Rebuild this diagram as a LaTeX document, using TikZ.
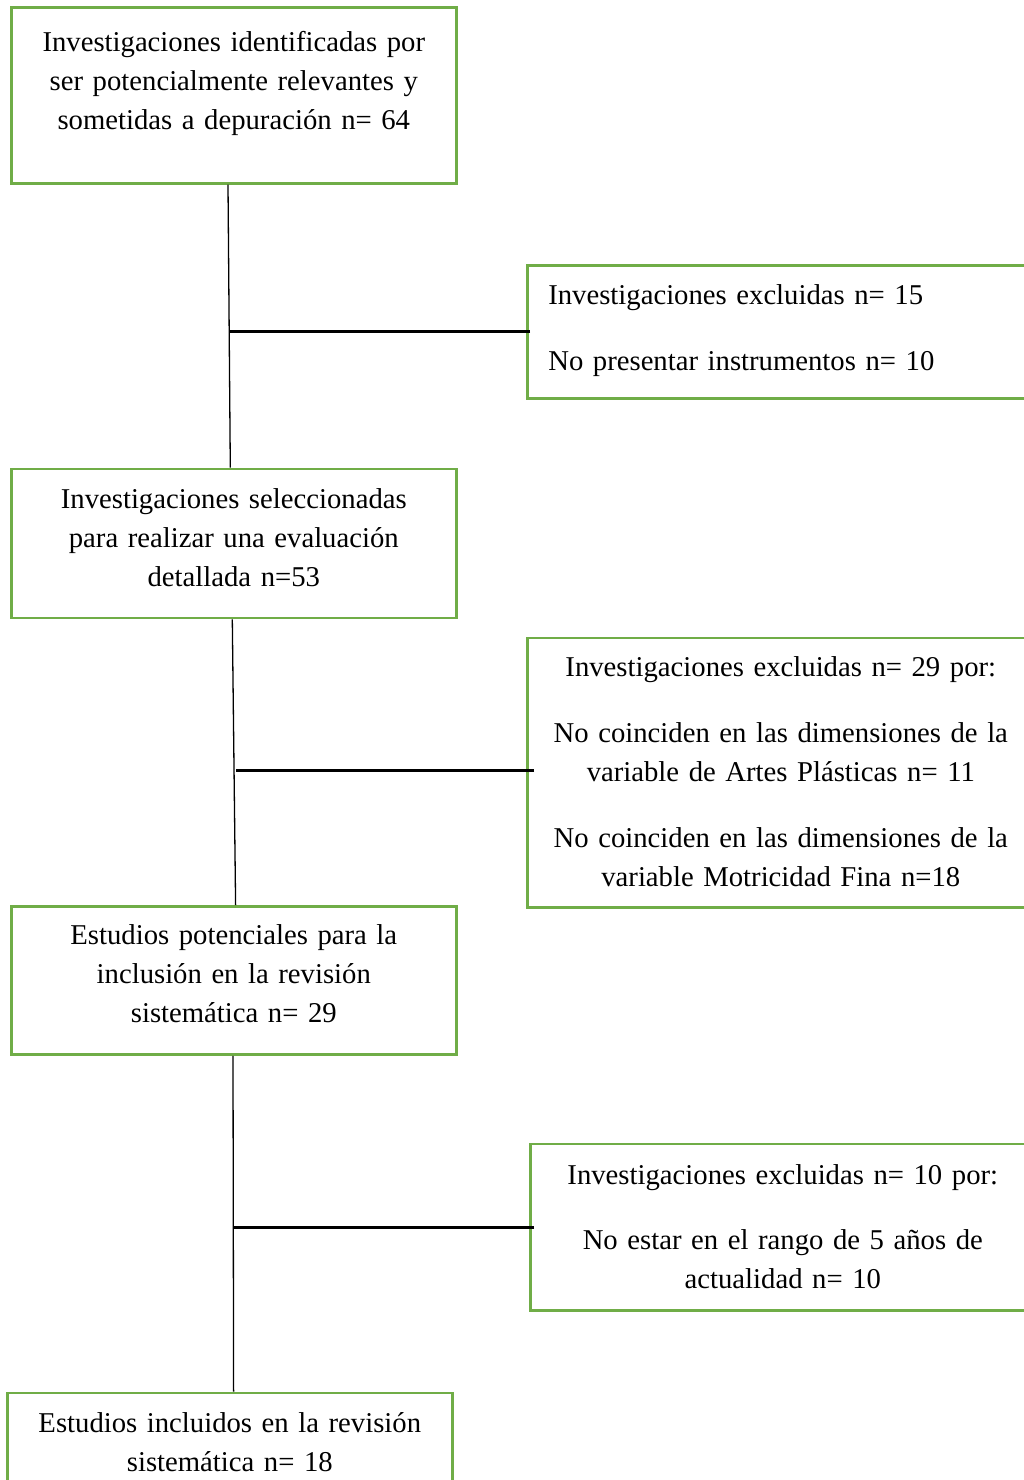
\documentclass[tikz,border=0pt]{standalone}
\usepackage{fontspec}
\setmainfont{Liberation Serif}[Ligatures=CommonOff]
\definecolor{boxgreen}{HTML}{70AD47}
\tikzset{
  box/.style={draw=boxgreen, line width=2.6pt, anchor=north west, inner sep=0pt,
    align=center, font=\fontsize{28.7}{39}\selectfont},
  stem/.style={line width=1.3pt},
  branch/.style={line width=3pt},
}
\begin{document}
\begin{tikzpicture}[x=1pt,y=-1pt]
\useasboundingbox (0,0) rectangle (1023,1480);
% main column
\node[box, text width=445pt, text height=44.7pt, text depth=131.3pt] (B1) at (10,6)
  {Investigaciones identificadas por\\ser potencialmente relevantes y\\sometidas a depuración n= 64};
\node[box, text width=445pt, text height=39pt, text depth=110pt] (B3) at (10,467.7)
  {Investigaciones seleccionadas\\para realizar una evaluación\\detallada n=53};
\node[box, text width=445pt, text height=38.3pt, text depth=110pt] (B5) at (10,905)
  {Estudios potenciales para la\\inclusión en la revisión\\sistemática n= 29};
\node[box, text width=445pt, text height=39.8pt, text depth=100pt] (B7) at (6,1391.7)
  {Estudios incluidos en la revisión\\sistemática n= 18};
% excluded
\node[box, align=left, inner xsep=21pt, text width=468pt, text height=39.5pt, text depth=93.5pt] (E1) at (526,264)
  {Investigaciones excluidas n= 15\\[27pt]No presentar instrumentos n= 10};
\node[box, text width=507pt, text height=38.3pt, text depth=231pt] (E2) at (526,636.7)
  {Investigaciones excluidas n= 29 por:\\[27pt]No coinciden en las dimensiones de la\\variable de Artes Plásticas n= 11\\[27pt]No coinciden en las dimensiones de la\\variable Motricidad Fina n=18};
\node[box, text width=505pt, text height=40.6pt, text depth=126pt] (E3) at (529,1142.7)
  {Investigaciones excluidas n= 10 por:\\[26pt]No estar en el rango de 5 años de\\actualidad n= 10};
%
\coordinate (S1) at ([xshift=-5.8pt]B1.south);
\coordinate (T1) at ([xshift=-3.5pt]B3.north);
\coordinate (S2) at ([xshift=-1.5pt]B3.south);
\coordinate (T2) at ([xshift=1.8pt]B5.north);
\coordinate (S3) at ([xshift=-0.8pt]B5.south);
\coordinate (T3) at ([xshift=3.8pt]B7.north);
\coordinate (J2) at ([yshift=2pt]E2.west);
%
\draw[stem] (S1) -- (T1);
\draw[stem] (S2) -- (T2);
\draw[stem] (S3) -- (T3);
%
\draw[branch] ([xshift=4pt]E1.west) -- (E1.west -| T1);
\draw[branch] ([xshift=8pt]J2) -- (J2 -| T2);
\draw[branch] ([xshift=5pt]E3.west) -- (E3.west -| T3);
%
\end{tikzpicture}
\end{document}
